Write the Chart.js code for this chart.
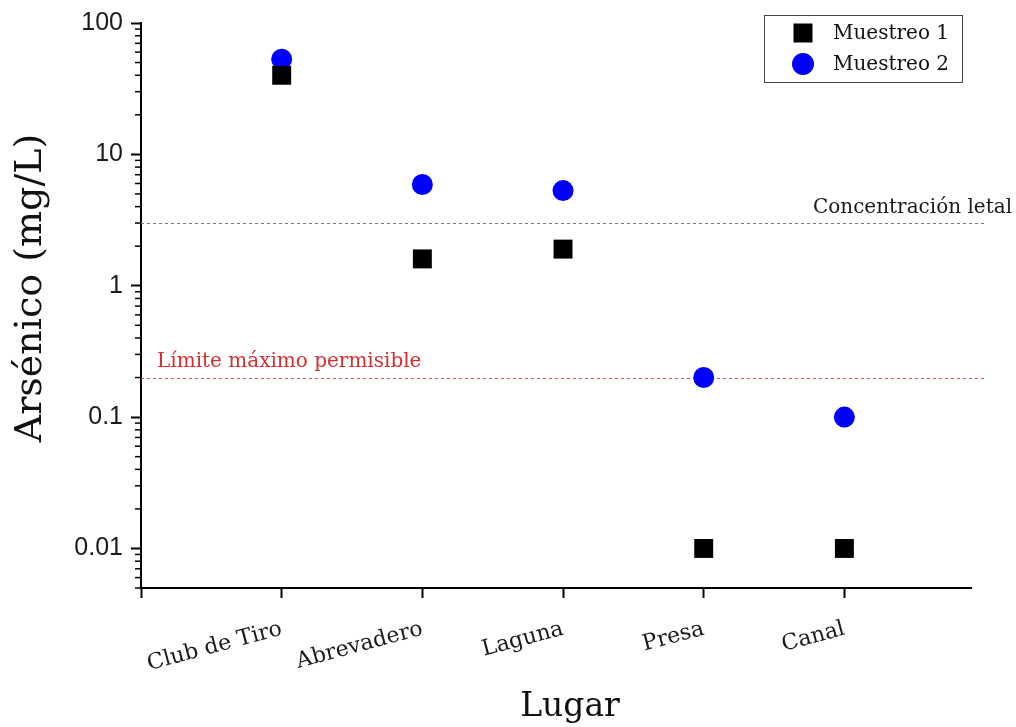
<!DOCTYPE html>
<html>
<head>
<meta charset="utf-8">
<script src="https://cdn.jsdelivr.net/npm/chart.js@4.4.1/dist/chart.umd.min.js"></script>
<style>
  html, body { margin: 0; padding: 0; background: #fff; }
  #wrap { width: 1016px; height: 727px; }
</style>
</head>
<body>
<div id="wrap"><canvas id="c" width="1016" height="727"></canvas></div>
<script>
// ---- data ----
const categories = ['Club de Tiro', 'Abrevadero', 'Laguna', 'Presa', 'Canal'];
const muestreo1 = [40, 1.6, 1.9, 0.01, 0.01];
const muestreo2 = [53, 5.9, 5.3, 0.2, 0.1];
const seriesNames = ['Muestreo 1', 'Muestreo 2'];
const yTickValues = [0.01, 0.1, 1, 10, 100];
const yTickLabels = ['0.01', '0.1', '1', '10', '100'];
const letalValue = 3;
const letalLabel = 'Concentración letal';
const limiteValue = 0.2;
const limiteLabel = 'Límite máximo permisible';
const refLineXRange = [-1, 5];
const xTitle = 'Lugar';
const yTitle = 'Arsénico (mg/L)';

const SERIF = '"DejaVu Serif", serif';
const SANS = '"Liberation Sans", Arial, sans-serif';

function toPoints(vals) { return vals.map((v, i) => ({ x: i, y: v })); }

const decor = {
  id: 'decor',
  beforeDatasetsDraw(chart) {
    const ctx = chart.ctx, xs = chart.scales.x, ys = chart.scales.y;
    const x0 = xs.getPixelForValue(refLineXRange[0]);
    const x1 = xs.getPixelForValue(refLineXRange[1]);
    ctx.save();
    ctx.lineWidth = 1;
    ctx.setLineDash([3, 3]);
    // letal
    let y = Math.round(ys.getPixelForValue(letalValue)) + 0.5;
    ctx.strokeStyle = '#7a7a7a';
    ctx.beginPath(); ctx.moveTo(x0, y); ctx.lineTo(x1, y); ctx.stroke();
    ctx.setLineDash([]);
    ctx.font = '20px ' + SERIF;
    ctx.fillStyle = '#1a1a1a';
    ctx.textAlign = 'right'; ctx.textBaseline = 'alphabetic';
    ctx.fillText(letalLabel, x1 + 27, y - 11);
    // limite
    ctx.setLineDash([3, 3]);
    y = Math.round(ys.getPixelForValue(limiteValue)) + 0.5;
    ctx.strokeStyle = '#d6504c';
    ctx.beginPath(); ctx.moveTo(x0, y); ctx.lineTo(x1, y); ctx.stroke();
    ctx.setLineDash([]);
    ctx.fillStyle = '#d42f2f';
    ctx.textAlign = 'left';
    ctx.fillText(limiteLabel, x0 + 16, y - 12);
    ctx.restore();
  },
  afterDraw(chart) {
    const ctx = chart.ctx, ys = chart.scales.y, ca = chart.chartArea;
    ctx.save();
    // minor log ticks
    ctx.strokeStyle = '#000';
    ctx.lineWidth = 1.5;
    for (let e = -3; e <= 2; e++) {
      const d = Math.pow(10, e);
      for (let m = 2; m <= 9; m++) {
        const v = m * d;
        if (v < ys.min || v > ys.max) continue;
        const y = ys.getPixelForValue(v);
        ctx.beginPath(); ctx.moveTo(ca.left - 6, y); ctx.lineTo(ca.left, y); ctx.stroke();
      }
    }
    // axis titles
    ctx.fillStyle = '#111';
    ctx.font = '33px ' + SERIF;
    ctx.textAlign = 'center'; ctx.textBaseline = 'alphabetic';
    ctx.fillText(xTitle, 570, 716);
    ctx.save();
    ctx.translate(41, 288);
    ctx.rotate(-Math.PI / 2);
    ctx.font = '38px ' + SERIF;
    ctx.fillText(yTitle, 0, 0);
    ctx.restore();
    // legend
    const bx = 764.5, by = 15.5, bw = 198, bh = 67;
    ctx.fillStyle = '#fff';
    ctx.fillRect(bx, by, bw, bh);
    ctx.strokeStyle = '#444';
    ctx.lineWidth = 1;
    ctx.strokeRect(bx, by, bw, bh);
    ctx.font = '20px ' + SERIF;
    ctx.textAlign = 'left'; ctx.textBaseline = 'middle';
    chart.data.datasets.forEach((ds, i) => {
      const cy = 33 + i * 31, cx = 803;
      ctx.fillStyle = ds.backgroundColor;
      if (ds.pointStyle === 'rect') {
        ctx.fillRect(cx - 9.5, cy - 9.5, 19, 19);
      } else {
        ctx.beginPath(); ctx.arc(cx, cy, 11, 0, Math.PI * 2); ctx.fill();
      }
      ctx.fillStyle = '#111';
      ctx.fillText(ds.label, 833, cy + 1);
    });
    ctx.restore();
  }
};

new Chart(document.getElementById('c'), {
  type: 'scatter',
  data: {
    datasets: [
      {
        label: seriesNames[0],
        data: toPoints(muestreo1),
        pointStyle: 'rect',
        pointRadius: 13.4,
        pointHoverRadius: 13.4,
        backgroundColor: '#000000',
        borderWidth: 0,
        pointBorderWidth: 0
      },
      {
        label: seriesNames[1],
        data: toPoints(muestreo2),
        pointStyle: 'circle',
        pointRadius: 10.5,
        pointHoverRadius: 10.5,
        backgroundColor: '#0000ff',
        borderWidth: 0,
        pointBorderWidth: 0
      }
    ]
  },
  options: {
    responsive: false,
    animation: false,
    events: [],
    layout: { padding: { top: 22, right: 45, left: 0, bottom: 0 } },
    plugins: { legend: { display: false }, tooltip: { enabled: false } },
    scales: {
      x: {
        type: 'linear',
        position: 'bottom',
        min: -1,
        max: 4.9,
        afterFit(s) { s.height = 139; },
        ticks: {
          stepSize: 1,
          includeBounds: false,
          autoSkip: false,
          minRotation: 15,
          maxRotation: 15,
          padding: 18,
          color: '#1a1a1a',
          font: { family: SERIF, size: 22 },
          callback: (v) => (Number.isInteger(v) && v >= 0 && v < categories.length) ? categories[v] : ''
        },
        grid: {
          drawOnChartArea: false,
          drawTicks: true,
          tickLength: 10,
          tickWidth: 2,
          tickColor: '#000'
        },
        border: { display: true, color: '#000', width: 2 },
        title: { display: false }
      },
      y: {
        type: 'logarithmic',
        min: 0.005,
        max: 100,
        afterFit(s) { s.width = 141; },
        afterBuildTicks(s) { s.ticks = yTickValues.map(v => ({ value: v })); },
        ticks: {
          autoSkip: false,
          padding: 8,
          color: '#1a1a1a',
          font: { family: SANS, size: 25 },
          callback: (v) => { const i = yTickValues.indexOf(v); return i >= 0 ? yTickLabels[i] : ''; }
        },
        grid: {
          drawOnChartArea: false,
          drawTicks: true,
          tickLength: 10,
          tickWidth: 2,
          tickColor: '#000'
        },
        border: { display: true, color: '#000', width: 2 },
        title: { display: false }
      }
    }
  },
  plugins: [decor]
});
</script>
</body>
</html>
